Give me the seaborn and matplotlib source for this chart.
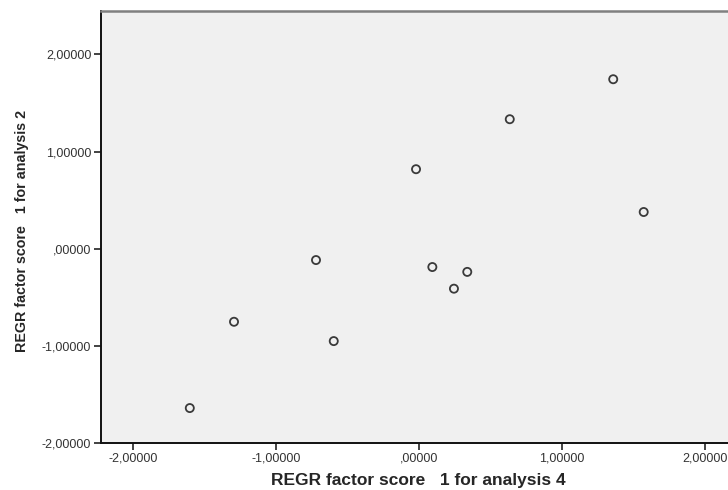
import numpy as np
import pandas as pd
import matplotlib
matplotlib.use("Agg")
import matplotlib.pyplot as plt
import seaborn as sns
from matplotlib import font_manager
from matplotlib.ticker import FuncFormatter

# factor scores
score_analysis_4 = [-1.601, -1.292, -0.719, -0.595, -0.020, 0.094, 0.338, 0.245, 0.635, 1.358, 1.571]
score_analysis_2 = [-1.643, -0.754, -0.118, -0.953, 0.818, -0.190, -0.240, -0.413, 1.333, 1.745, 0.377]
tick_values = [-2, -1, 0, 1, 2]

df = pd.DataFrame({"x": score_analysis_4, "y": score_analysis_2})

sns.set_style("white")
plt.rcParams["font.family"] = ["Liberation Sans", "DejaVu Sans"]

# the y label in the original is set in a narrow face
installed = {f.name for f in font_manager.fontManager.ttflist}
if "Liberation Sans Narrow" in installed:
    ylab_font, ylab_size = "Liberation Sans Narrow", 12.5
else:
    ylab_font, ylab_size = "Liberation Sans", 10.3

fig = plt.figure(figsize=(7.28, 4.90), dpi=100)
# axes runs a little past the right edge of the figure, like the original
ax = fig.add_axes([101 / 728, 47 / 490, 635 / 728, 432 / 490])
ax.set_facecolor("#f0f0f0")

sns.scatterplot(x="x", y="y", data=df, ax=ax, marker="o", s=34,
                facecolor="none", edgecolor="#3a3a3a", linewidth=1.3)

ax.set_xlim(-2.2215, 2.216)
ax.set_ylim(-2.003, 2.448)
ax.set_xticks(tick_values)
ax.set_yticks(tick_values)


def spss_fmt(v, pos):
    s = f"{abs(v):.5f}".replace(".", ",")
    if s.startswith("0,"):
        s = s[1:]
    if v < 0:
        s = "-" + s
    return s


ax.xaxis.set_major_formatter(FuncFormatter(spss_fmt))
ax.yaxis.set_major_formatter(FuncFormatter(spss_fmt))
ax.tick_params(axis="both", direction="out", length=5, width=1.2, color="#222222",
               labelsize=9, labelcolor="#333333", pad=2, bottom=True, left=True)

for side in ("left", "bottom"):
    ax.spines[side].set_color("#111111")
    ax.spines[side].set_linewidth(1.4)
ax.spines["top"].set_color("#808080")
ax.spines["top"].set_linewidth(1.8)
ax.spines["right"].set_visible(False)

ax.set_xlabel("REGR factor score   1 for analysis 4", fontsize=12.5, fontweight="bold", labelpad=6)
ax.set_ylabel("REGR factor score   1 for analysis 2", fontsize=ylab_size, fontweight="bold",
              family=[ylab_font, "DejaVu Sans"])
ax.yaxis.set_label_coords(-0.114, 0.49)

fig.savefig("out.png", dpi=100)
